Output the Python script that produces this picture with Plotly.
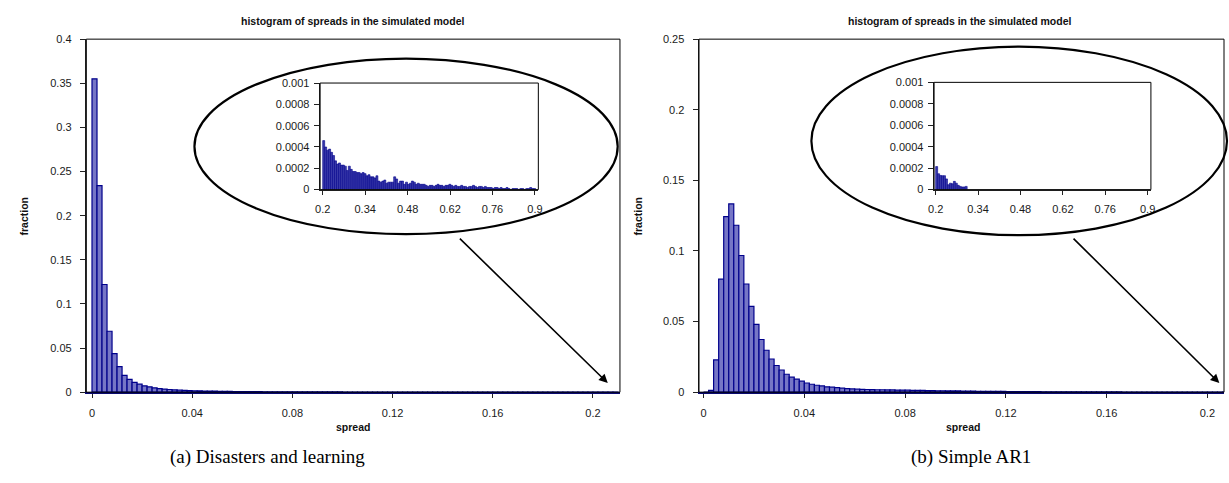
import numpy as np
import plotly.graph_objects as go

W, H = 1229, 483

# ---------------- data ----------------
main_bin_width = 0.002
inset_bin_width = 0.0065
inset_start = 0.2

left_main = [0.355, 0.234, 0.122, 0.069, 0.0437, 0.0290, 0.0190, 0.0145, 0.0112, 0.0090,
             0.0072, 0.0060, 0.0049, 0.0041, 0.0035, 0.0030, 0.0026, 0.0023, 0.0020, 0.0018,
             0.0016, 0.0015, 0.0013, 0.0012, 0.0011, 0.0010, 0.00092, 0.00085, 0.00078, 0.00072,
             0.00066, 0.00061, 0.00057, 0.00053, 0.00049, 0.00046, 0.00043, 0.00040, 0.00038, 0.00036,
             0.00034, 0.00032, 0.00030, 0.00029, 0.00027, 0.00026, 0.00025, 0.00024, 0.00023, 0.00022,
             0.00021, 0.00020, 0.00019, 0.00018, 0.00018, 0.00017, 0.00016, 0.00016, 0.00015, 0.00015,
             0.00014, 0.00014, 0.00013, 0.00013, 0.00012, 0.00012, 0.00012, 0.00011, 0.00011, 0.00011,
             0.00010, 0.00010, 0.00010, 0.00009, 0.00009, 0.00009, 0.00009, 0.00008, 0.00008, 0.00008,
             0.00008, 0.00008, 0.00007, 0.00007, 0.00007, 0.00007, 0.00007, 0.00006, 0.00006, 0.00006,
             0.00006, 0.00006, 0.00006, 0.00005, 0.00005, 0.00005, 0.00005, 0.00005, 0.00005, 0.00004,
             0.00004, 0.00004, 0.00004, 0.00004, 0.00004]

right_main = [0.0, 0.0013, 0.0228, 0.0800, 0.1243, 0.1333, 0.1182, 0.0968, 0.0766, 0.0607,
              0.0480, 0.0373, 0.0297, 0.0235, 0.0189, 0.0157, 0.0127, 0.0106, 0.0092, 0.0078,
              0.0065, 0.0056, 0.0049, 0.0044, 0.0038, 0.0035, 0.0032, 0.0028, 0.0025, 0.0023,
              0.0021, 0.0020, 0.0019, 0.0018, 0.0017, 0.0017, 0.0016, 0.0016, 0.0015, 0.0015,
              0.0014, 0.0013, 0.0013, 0.0012, 0.0011, 0.0011, 0.0010, 0.0010, 0.0009, 0.0009,
              0.00085, 0.00080, 0.00075, 0.00070, 0.00066, 0.00062, 0.00058, 0.00055, 0.00052, 0.00049,
              0.00046, 0.00043, 0.00041, 0.00039, 0.00037, 0.00035, 0.00033, 0.00031, 0.00029, 0.00028,
              0.00026, 0.00025, 0.00024, 0.00022, 0.00021, 0.00020, 0.00019, 0.00018, 0.00017, 0.00016,
              0.00015, 0.00015, 0.00014, 0.00013, 0.00012, 0.00012, 0.00011, 0.00011, 0.00010, 0.00010,
              0.00009, 0.00009, 0.00008, 0.00008, 0.00008, 0.00007, 0.00007, 0.00007, 0.00006, 0.00006,
              0.00006, 0.00005, 0.00005, 0.00005]

left_inset = [0.00046, 0.00040, 0.00037, 0.00038, 0.00035, 0.00032, 0.00027, 0.00024, 0.00025, 0.00023,
              0.00023, 0.00022, 0.00018, 0.00022, 0.00019, 0.00017, 0.00017, 0.00016, 0.00016, 0.00015,
              0.00016, 0.00015, 0.00013, 0.00014, 0.00012, 0.00012, 0.00011, 0.00013, 0.00008, 0.00007,
              0.00008, 0.00009, 0.00006, 0.00007, 0.00007, 0.00007, 0.00012, 0.00010, 0.00006, 0.00008,
              0.00008, 0.00005, 0.00007, 0.00005, 0.00006, 0.00008, 0.00007, 0.00005, 0.00006, 0.00005,
              0.00005, 0.00005, 0.00004, 0.00003, 0.00004, 0.00004, 0.00003,
              0.00004, 0.00005, 0.00004, 0.00004, 0.00003, 0.00004, 0.00004, 0.00005, 0.00004, 0.00003,
              0.00004, 0.00003, 0.00003, 0.00004, 0.00003, 0.00003, 0.00002, 0.00003, 0.00003, 0.00004,
              0.00003, 0.00002, 0.00003, 0.00003, 0.00002, 0.00003, 0.00002, 0.00002, 0.00002, 0.00001,
              0.00002, 0.00002, 0.00001, 0.00002, 0.00001, 0.00001, 0.00002, 0.00001, 0.0, 0.00001,
              0.00001, 0.00001, 0.0, 0.00001, 0.00001, 0.0, 0.00001, 0.00001, 0.00002, 0.00001, 0.00001]

right_inset = [0.000215, 0.000148, 0.000132, 0.000130, 0.000130, 0.000100, 0.000046, 0.000060,
               0.000055, 0.000077, 0.000060, 0.000040, 0.000030, 0.000025, 0.000025, 0.000030]

main_x_ticks = [0, 0.04, 0.08, 0.12, 0.16, 0.2]
main_x_labels = ["0", "0.04", "0.08", "0.12", "0.16", "0.2"]
left_y_ticks = [0, 0.05, 0.1, 0.15, 0.2, 0.25, 0.3, 0.35, 0.4]
left_y_labels = ["0", "0.05", "0.1", "0.15", "0.2", "0.25", "0.3", "0.35", "0.4"]
right_y_ticks = [0, 0.05, 0.1, 0.15, 0.2, 0.25]
right_y_labels = ["0", "0.05", "0.1", "0.15", "0.2", "0.25"]
inset_x_ticks = [0.2, 0.34, 0.48, 0.62, 0.76, 0.9]
inset_x_labels = ["0.2", "0.34", "0.48", "0.62", "0.76", "0.9"]
inset_y_ticks = [0, 0.0002, 0.0004, 0.0006, 0.0008, 0.001]
inset_y_labels = ["0", "0.0002", "0.0004", "0.0006", "0.0008", "0.001"]

title_text = "histogram of spreads in the simulated model"
caption_a = "(a) Disasters and learning"
caption_b = "(b) Simple AR1"

# ---------------- helpers ----------------
def px(xp):
    return xp / W

def py(yp):
    return 1 - yp / H

def centers(start, width, n):
    return start + width * (np.arange(n) + 0.5)

FONT = "Liberation Sans, Arial, sans-serif"
TICKCOL = "#1a1a1a"
BAR_FILL = "#7676c6"
BAR_LINE = "#00008b"
INSET_FILL = "#3a3aaa"

fig = go.Figure()

fig.add_trace(go.Bar(x=centers(0, main_bin_width, len(left_main)), y=left_main,
                     width=main_bin_width, marker=dict(color=BAR_FILL, line=dict(color=BAR_LINE, width=1.2)),
                     xaxis="x", yaxis="y", showlegend=False))
fig.add_trace(go.Bar(x=centers(inset_start, inset_bin_width, len(left_inset)), y=left_inset,
                     width=inset_bin_width, marker=dict(color=INSET_FILL, line=dict(color=BAR_LINE, width=0.6)),
                     xaxis="x2", yaxis="y2", showlegend=False))
fig.add_trace(go.Bar(x=centers(0, main_bin_width, len(right_main)), y=right_main,
                     width=main_bin_width, marker=dict(color=BAR_FILL, line=dict(color=BAR_LINE, width=1.2)),
                     xaxis="x3", yaxis="y3", showlegend=False))
fig.add_trace(go.Bar(x=centers(inset_start, inset_bin_width, len(right_inset)), y=right_inset,
                     width=inset_bin_width, marker=dict(color=INSET_FILL, line=dict(color=BAR_LINE, width=0.6)),
                     xaxis="x4", yaxis="y4", showlegend=False))

def xax(domain, rng, tv, tt, anchor, standoff=4, linecolor="#222"):
    return dict(domain=domain, range=rng, tickvals=tv, ticktext=tt, anchor=anchor,
                showgrid=False, zeroline=False, showline=True, linecolor=linecolor, linewidth=1.5,
                ticks="outside", ticklen=4, tickcolor="#222", tickwidth=1,
                tickfont=dict(family=FONT, size=11, color=TICKCOL), ticklabelstandoff=standoff,
                fixedrange=True)

def yax(domain, rng, tv, tt, anchor, standoff=4):
    return dict(domain=domain, range=rng, tickvals=tv, ticktext=tt, anchor=anchor,
                showgrid=False, zeroline=False, showline=True, linecolor="#222", linewidth=1.5,
                ticks="outside", ticklen=5, tickcolor="#222", tickwidth=1,
                tickfont=dict(family=FONT, size=11, color=TICKCOL), ticklabelstandoff=standoff,
                fixedrange=True)

# geometry (pixels)
LM = (81, 619, 34, 396)        # left main: x0, x1, ytop, ybottom
LI = (316.7, 536.7, 79, 188.3)  # left inset
RM = (698.7, 1228, 34, 396)
RI = (935.7, 1154.3, 78.3, 188.3)

def dom(g):
    return [px(g[0]), px(g[1])], [py(g[3]), py(g[2])]

lmx, lmy = dom(LM)
lix, liy = dom(LI)
rmx, rmy = dom(RM)
rix, riy = dom(RI)

fig.update_layout(
    width=W, height=H, autosize=False,
    margin=dict(l=0, r=0, t=0, b=0, pad=0),
    paper_bgcolor="white", plot_bgcolor="white",
    bargap=0, barmode="overlay", hovermode=False,
    xaxis=xax(lmx, [-0.00226, 0.2108], main_x_ticks, main_x_labels, "y", 6, "#0a0a70"),
    yaxis=yax(lmy, [0, 0.4], left_y_ticks, left_y_labels, "x", 6),
    xaxis2=xax(lix, [0.1915, 0.911], inset_x_ticks, inset_x_labels, "y2", 5),
    yaxis2=yax(liy, [0, 0.001], inset_y_ticks, inset_y_labels, "x2", 2),
    xaxis3=xax(rmx, [-0.0018, 0.2066], main_x_ticks, main_x_labels, "y3", 6, "#0a0a70"),
    yaxis3=yax(rmy, [0, 0.25], right_y_ticks, right_y_labels, "x3", 6),
    xaxis4=xax(rix, [0.1948, 0.9108], inset_x_ticks, inset_x_labels, "y4", 5),
    yaxis4=yax(riy, [0, 0.001], inset_y_ticks, inset_y_labels, "x4", 2),
)

shapes = []
for xr, yr in [("x", "y"), ("x2", "y2"), ("x3", "y3"), ("x4", "y4")]:
    shapes.append(dict(type="rect", xref=f"{xr} domain", yref=f"{yr} domain",
                       x0=0, x1=1, y0=0, y1=1, line=dict(color="black", width=1), layer="above"))
# ellipses
shapes.append(dict(type="circle", xref="paper", yref="paper",
                   x0=px(190), x1=px(616.7), y0=py(234), y1=py(54),
                   line=dict(color="black", width=2.2)))
shapes.append(dict(type="circle", xref="paper", yref="paper",
                   x0=px(812), x1=px(1231), y0=py(235), y1=py(41.7),
                   line=dict(color="black", width=2.2)))
fig.update_layout(shapes=shapes)

ann = []
# arrows
for (sx, sy, ex, ey) in [(457.3, 240.7, 606.7, 386.7), (1076, 240.7, 1223.3, 386.7)]:
    ann.append(dict(x=px(ex), y=py(ey), xref="paper", yref="paper", text="",
                    showarrow=True, ax=sx - ex, ay=sy - ey, axref="pixel", ayref="pixel",
                    arrowhead=2, arrowsize=1.1, arrowwidth=1.6, arrowcolor="black"))
# titles
for cx in [(LM[0] + LM[1]) / 2, (RM[0] + 1229) / 2 - 2]:
    ann.append(dict(x=px(cx), y=py(15), xref="paper", yref="paper", text=f"<b>{title_text}</b>",
                    showarrow=False, font=dict(family=FONT, size=10.5, color="#111"),
                    xanchor="center", yanchor="middle"))
# y axis labels
for cx in [18, 637]:
    ann.append(dict(x=px(cx), y=py(215), xref="paper", yref="paper", text="<b>fraction</b>",
                    showarrow=False, textangle=-90, font=dict(family=FONT, size=10.5, color="#111"),
                    xanchor="center", yanchor="middle"))
# x axis labels
for cx in [(LM[0] + LM[1]) / 2, 965]:
    ann.append(dict(x=px(cx), y=py(432), xref="paper", yref="paper", text="<b>spread</b>",
                    showarrow=False, font=dict(family=FONT, size=10.5, color="#111"),
                    xanchor="center", yanchor="middle"))
# captions
ann.append(dict(x=px(264), y=py(462), xref="paper", yref="paper", text=caption_a,
                showarrow=False, font=dict(family="Liberation Serif, DejaVu Serif, serif", size=19, color="black"),
                xanchor="center", yanchor="middle"))
ann.append(dict(x=px(973), y=py(462), xref="paper", yref="paper", text=caption_b,
                showarrow=False, font=dict(family="Liberation Serif, DejaVu Serif, serif", size=19, color="black"),
                xanchor="center", yanchor="middle"))
fig.update_layout(annotations=ann)

fig.write_html("out.html", config={"displayModeBar": False, "staticPlot": True},
               post_script="document.body.style.margin='0';document.body.style.overflow='hidden';")
